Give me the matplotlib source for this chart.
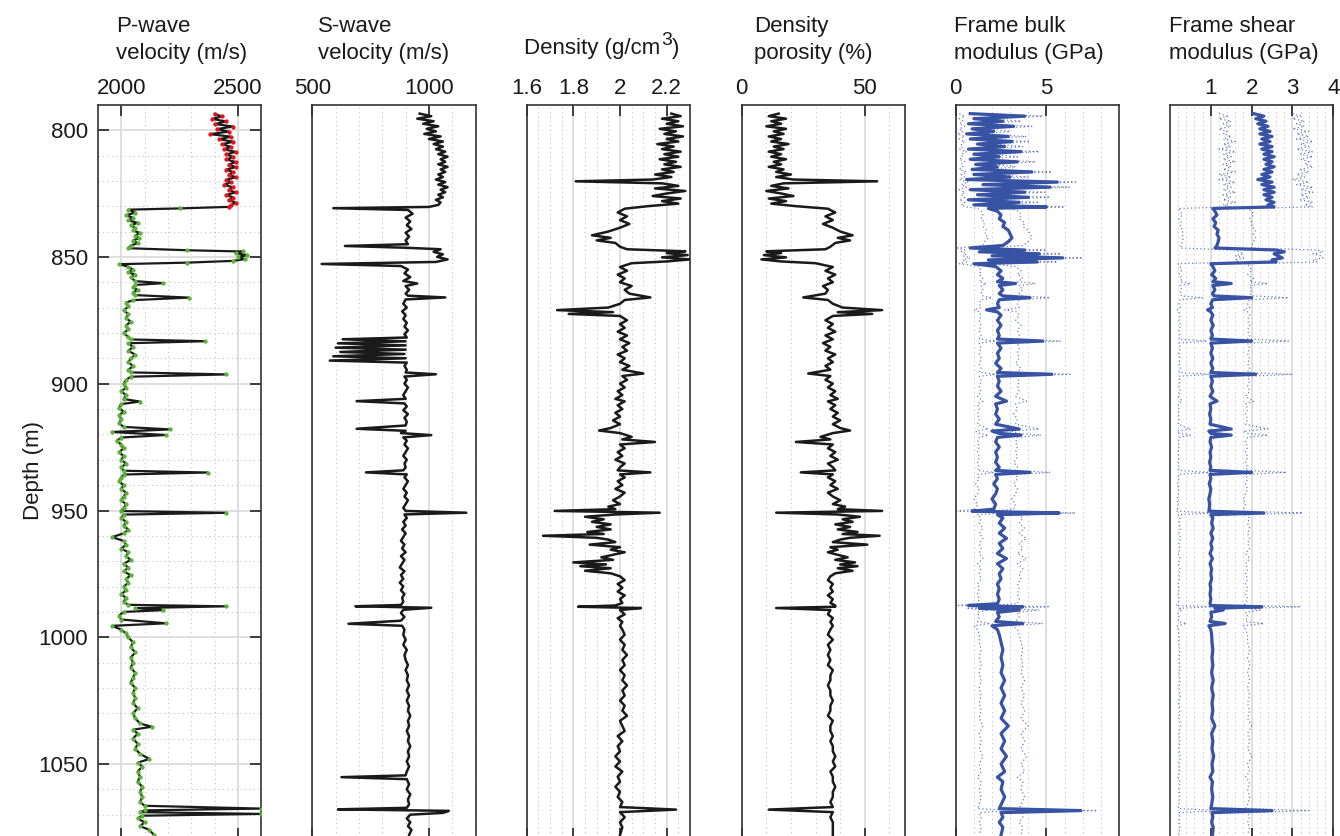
import matplotlib
matplotlib.use("Agg")
import matplotlib.pyplot as plt
import numpy as np

plt.rcParams['font.family'] = ['Liberation Sans', 'DejaVu Sans']

# ---- data: (depth m, value) ----
pwave = [
    (793.5, 2400), (794.5, 2430), (795.5, 2390), (796.5, 2450), (797.5, 2400), (798.5, 2480),
    (799.5, 2410), (800.5, 2460), (801.5, 2380), (802.5, 2470), (803.5, 2420), (804.5, 2480),
    (805.5, 2430), (806.5, 2470), (807.5, 2440), (808.5, 2490), (809.5, 2450), (810.5, 2480),
    (811.5, 2450), (812.5, 2490), (813.5, 2460), (814.5, 2490), (815.5, 2450), (816.5, 2480),
    (817.5, 2460), (818.5, 2490), (819.5, 2450), (820.5, 2470), (821.5, 2440), (822.5, 2480),
    (823.5, 2460), (824.5, 2490), (825.5, 2450), (826.5, 2480), (827.5, 2460), (828.5, 2490),
    (829.5, 2470), (830.2, 2460), (830.8, 2250), (831.3, 2030), (832.5, 2060), (833.5, 2020),
    (834.5, 2050), (835.5, 2030), (836.5, 2070), (837.5, 2040), (838.5, 2060), (839.5, 2050),
    (840.5, 2080), (841.5, 2060), (842.5, 2075), (843.5, 2050), (844.5, 2070), (845.5, 2040),
    (846.5, 2030), (847.3, 2280), (847.8, 2520), (848.5, 2490), (849.2, 2540), (850.0, 2500),
    (850.8, 2530), (851.5, 2480), (852.2, 2280), (852.8, 1990), (853.8, 2030), (855, 2050),
    (856, 2030), (857, 2060), (858, 2040), (859.5, 2060), (860.3, 2180), (861, 2060),
    (862, 2050), (863, 2070), (864, 2050), (865, 2060), (866, 2290), (867, 2050),
    (868, 2020), (869.5, 2030), (871, 2010), (872.5, 2030), (874, 2020), (875.5, 2040),
    (877, 2020), (878.5, 2030), (880, 2010), (881.5, 2030), (882.5, 2040), (883.2, 2360),
    (884, 2030), (885.5, 2050), (887, 2030), (888.5, 2060), (890, 2040), (891.5, 2030),
    (893, 2050), (894.5, 2030), (895.5, 2040), (896.3, 2450), (897.2, 2040), (898.5, 2020),
    (900, 2010), (901.5, 2020), (903, 2000), (904.5, 2020), (906, 2010), (907, 2080),
    (908, 2000), (909.5, 1990), (911, 2010), (912.5, 1990), (914, 2000), (915.5, 1990),
    (917, 2010), (918, 2210), (919, 1960), (920.2, 2190), (921.2, 2000), (922.5, 1980),
    (924, 2000), (925.5, 2010), (927, 1990), (928.5, 2010), (930, 2000), (931.5, 2020),
    (933, 2000), (934.3, 2010), (935, 2370), (935.8, 2010), (937, 2000), (938.5, 1990),
    (940, 2010), (941.5, 2000), (943, 2020), (944.5, 2010), (946, 2000), (947.5, 2020),
    (949, 2010), (950.2, 2000), (950.9, 2450), (951.6, 2010), (953, 2000), (954.5, 2020),
    (956, 2010), (957.5, 2030), (959, 2010), (960.5, 1960), (962, 2010), (963.5, 2020),
    (965, 2000), (966.5, 2030), (968, 2020), (969.5, 2040), (971, 2010), (972.5, 2030),
    (974, 2010), (975.5, 2040), (977, 2020), (978.5, 2030), (980, 2010), (981.5, 2020),
    (983, 2000), (984.5, 2020), (986, 2010), (987.2, 2030), (987.8, 2450), (988.5, 2060),
    (989.3, 2180), (990, 2010), (991.5, 1990), (993, 2000), (994.5, 2190), (995.5, 1960),
    (997, 2000), (998.5, 2020), (1000, 2030), (1002, 2050), (1004, 2040), (1006, 2060),
    (1008, 2040), (1010, 2050), (1012, 2040), (1014, 2060), (1016, 2050), (1018, 2040),
    (1020, 2060), (1022, 2050), (1024, 2060), (1026, 2050), (1028, 2070), (1030, 2050),
    (1032, 2060), (1034, 2080), (1035.3, 2130), (1036.5, 2050), (1038, 2070), (1040, 2050),
    (1042, 2070), (1044, 2060), (1046, 2080), (1048, 2120), (1049.5, 2070), (1051, 2090),
    (1053, 2070), (1055, 2080), (1057, 2070), (1059, 2090), (1061, 2080), (1063, 2090),
    (1065, 2080), (1066.5, 2100), (1067.6, 2600), (1068.3, 2100), (1069, 2080), (1069.7, 2600),
    (1070.4, 2090), (1071.5, 2070), (1073, 2100), (1074.5, 2080), (1076, 2120), (1078, 2140),
]

swave = [
    (793.5, 960), (794.5, 1010), (795.5, 950), (796.5, 1020), (797.5, 975), (798.5, 1040),
    (799.5, 990), (800.5, 1030), (801.5, 980), (802.5, 1050), (803.5, 1000), (804.5, 1060),
    (805.5, 1020), (806.5, 1060), (807.5, 1030), (808.5, 1070), (809.5, 1040), (810.5, 1080),
    (811.5, 1050), (812.5, 1070), (813.5, 1040), (814.5, 1080), (815.5, 1050), (816.5, 1070),
    (817.5, 1040), (818.5, 1060), (819.5, 1030), (820.5, 1070), (821.5, 1040), (822.5, 1080),
    (823.5, 1050), (824.5, 1070), (825.5, 1040), (826.5, 1060), (827.5, 1030), (828.5, 1050),
    (829.5, 1040), (830.3, 1000), (830.8, 590), (831.5, 910), (833, 930), (834.5, 900),
    (836, 920), (837.5, 905), (839, 925), (840.5, 900), (842, 915), (843.5, 900),
    (845, 910), (845.7, 640), (846.4, 900), (847, 1050), (848, 1020), (849, 1060),
    (850, 1035), (851, 1080), (852, 1030), (852.8, 540), (853.6, 880), (855, 910),
    (856.5, 895), (858, 920), (859.5, 890), (860.5, 950), (861.5, 900), (863, 915),
    (864.5, 900), (865.3, 910), (866, 1070), (866.8, 900), (868.5, 890), (870, 905),
    (871.5, 885), (873, 900), (874.5, 890), (876, 905), (877.5, 895), (879, 910),
    (880.5, 895), (881.8, 905), (882.5, 630), (883.3, 900), (884.1, 610), (884.9, 900),
    (885.8, 600), (886.6, 900), (887.5, 620), (888.3, 895), (889.2, 590), (890, 900),
    (890.9, 575), (891.7, 905), (893, 895), (894.5, 905), (895.6, 900), (896.3, 1030),
    (897.2, 895), (898.5, 905), (900, 895), (901.5, 910), (903, 900), (904.5, 890),
    (906, 900), (906.9, 690), (907.8, 895), (909, 905), (910.5, 890), (912, 910),
    (913.5, 895), (915, 905), (916.5, 900), (917.8, 690), (918.6, 900), (919.5, 880),
    (920.3, 1010), (921.2, 890), (922.5, 905), (924, 895), (925.5, 910), (927, 900),
    (928.5, 890), (930, 905), (931.5, 895), (933, 900), (934.2, 890), (935, 730),
    (935.8, 905), (937, 895), (938.5, 910), (940, 900), (941.5, 890), (943, 905),
    (944.5, 895), (946, 910), (947.5, 900), (949, 890), (950.2, 900), (950.9, 1160),
    (951.6, 895), (953, 905), (954.5, 890), (956, 900), (957.5, 885), (959, 900),
    (960.5, 890), (962, 880), (963.5, 895), (965, 885), (966.5, 900), (968, 880),
    (969.5, 895), (971, 885), (972.5, 875), (974, 895), (975.5, 880), (977, 890),
    (978.5, 875), (980, 890), (981.5, 880), (983, 895), (984.5, 885), (986, 890),
    (987.3, 880), (987.8, 685), (988.4, 1010), (989.2, 890), (990.5, 880), (992, 895),
    (993.5, 880), (994.7, 655), (995.5, 885), (997, 895), (999, 890), (1001, 900),
    (1003, 890), (1005, 905), (1007, 895), (1009, 900), (1011, 910), (1013, 900),
    (1015, 910), (1017, 905), (1019, 915), (1021, 905), (1023, 915), (1025, 905),
    (1027, 915), (1029, 910), (1031, 920), (1033, 910), (1035, 915), (1037, 905),
    (1039, 915), (1041, 910), (1043, 920), (1045, 910), (1047, 915), (1049, 905),
    (1051, 915), (1053, 905), (1054.5, 900), (1055.2, 625), (1056, 905), (1058, 915),
    (1060, 905), (1062, 920), (1064, 910), (1066, 915), (1067.3, 905), (1067.9, 610),
    (1068.5, 1085), (1069.3, 1060), (1070, 920), (1071.5, 905), (1073, 920), (1074.5, 910),
    (1076, 925), (1078, 915),
]

# (depth, density g/cm3, density porosity %)
dens_por = [
    (793.5, 2.22, 15), (794.5, 2.26, 11), (795.5, 2.18, 18), (796.5, 2.25, 12), (797.5, 2.20, 16),
    (798.5, 2.27, 10), (799.5, 2.17, 18), (800.5, 2.24, 13), (801.5, 2.19, 17), (802.5, 2.27, 11),
    (803.5, 2.20, 16), (804.5, 2.25, 12), (805.5, 2.16, 19), (806.5, 2.23, 13), (807.5, 2.18, 17),
    (808.5, 2.26, 11), (809.5, 2.19, 16), (810.5, 2.25, 12), (811.5, 2.17, 18), (812.5, 2.24, 13),
    (813.5, 2.19, 16), (814.5, 2.26, 11), (815.5, 2.18, 17), (816.5, 2.23, 14), (817.5, 2.15, 20),
    (818.5, 2.22, 14), (819.5, 2.14, 21), (820.2, 1.81, 55), (821, 2.18, 17), (822, 2.25, 12),
    (823, 2.15, 19), (824, 2.28, 10), (825, 2.20, 16), (826, 2.14, 21), (827, 2.26, 11),
    (828, 2.18, 18), (829, 2.25, 12), (830, 2.12, 22), (831, 2.02, 35), (832.5, 1.99, 38),
    (834, 2.03, 34), (835.5, 2.00, 37), (837, 2.04, 33), (838.5, 2.00, 37), (840, 1.95, 40),
    (841.5, 1.88, 45), (842.5, 1.96, 39), (843.5, 1.90, 44), (844.5, 1.98, 38), (846, 2.00, 36),
    (847, 2.03, 34), (847.8, 2.28, 10), (848.5, 2.20, 16), (849.3, 2.29, 9), (850.2, 2.18, 18),
    (851, 2.30, 8), (851.8, 2.20, 16), (852.5, 2.05, 30), (854, 2.00, 37), (855.5, 2.03, 34),
    (857, 1.99, 38), (858.5, 2.02, 35), (860, 2.00, 37), (861.5, 2.05, 33), (863, 2.02, 35),
    (864.5, 2.04, 34), (866, 2.13, 25), (867, 2.02, 35), (868.5, 2.00, 37), (870, 1.95, 41),
    (871, 1.73, 57), (871.8, 1.97, 39), (872.5, 1.78, 53), (873.3, 2.00, 37), (875, 2.03, 34),
    (876.5, 2.00, 37), (878, 2.02, 35), (879.5, 1.99, 38), (881, 2.03, 34), (882.5, 2.00, 37),
    (884, 2.04, 33), (885.5, 2.01, 36), (887, 2.03, 34), (888.5, 1.99, 38), (890, 2.02, 35),
    (891.5, 2.00, 37), (893, 2.04, 34), (894.5, 2.01, 36), (896, 2.10, 27), (897, 2.01, 36),
    (898.5, 2.03, 34), (900, 2.00, 37), (901.5, 2.02, 35), (903, 1.99, 38), (904.5, 2.01, 36),
    (906, 1.98, 39), (907, 2.02, 35), (908.5, 1.99, 38), (910, 2.01, 36), (911.5, 1.98, 39),
    (913, 2.00, 37), (914.5, 1.97, 40), (916, 2.00, 37), (917.5, 1.96, 40), (918.5, 1.91, 44),
    (919.5, 2.00, 37), (921, 2.05, 32), (922, 2.01, 36), (923, 2.15, 22), (924, 2.00, 37),
    (925.5, 2.02, 35), (927, 1.99, 38), (928.5, 2.01, 36), (930, 1.98, 39), (931.5, 2.02, 35),
    (933, 2.00, 37), (934.2, 1.99, 38), (935, 2.13, 24), (935.8, 2.00, 37), (937, 2.02, 35),
    (938.5, 1.99, 38), (940, 2.01, 36), (941.5, 1.98, 39), (943, 2.02, 35), (944.5, 2.00, 37),
    (946, 1.97, 40), (947.5, 2.00, 37), (948.5, 1.95, 42), (949.5, 1.98, 39), (950.2, 1.72, 57),
    (950.9, 2.17, 14), (951.6, 1.98, 39), (952.5, 1.85, 48), (953.5, 1.93, 41), (954.5, 1.88, 45),
    (955.5, 1.96, 38), (956.5, 1.90, 44), (957.5, 1.96, 39), (958.5, 1.86, 47), (959.3, 1.93, 41),
    (960, 1.67, 56), (960.8, 1.90, 44), (961.5, 1.95, 40), (962.5, 1.98, 37), (963.5, 1.87, 51),
    (964.5, 2.00, 36), (965.5, 1.96, 39), (966.5, 2.02, 35), (967.5, 1.97, 39), (968.5, 1.92, 43),
    (969.5, 1.97, 38), (970.5, 1.80, 46), (971.3, 1.94, 40), (972, 1.83, 47), (972.8, 1.96, 39),
    (973.8, 1.85, 45), (974.8, 1.96, 38), (976, 2.00, 36), (977.5, 2.02, 35), (979, 1.99, 37),
    (980.5, 2.01, 36), (982, 1.99, 37), (983.5, 2.02, 35), (985, 2.00, 37), (986.5, 2.01, 36),
    (987.5, 1.98, 38), (988, 1.82, 38), (988.5, 2.09, 14), (989.3, 2.00, 36), (991, 2.02, 35),
    (992.5, 1.99, 37), (994, 2.01, 36), (995.5, 2.00, 37), (997, 2.01, 36), (999, 2.02, 35),
    (1001, 2.00, 37), (1003, 2.02, 35), (1005, 2.01, 36), (1007, 2.03, 35), (1009, 2.01, 36),
    (1011, 2.02, 35), (1013, 2.00, 37), (1015, 2.02, 36), (1017, 2.01, 36), (1019, 2.03, 35),
    (1021, 2.01, 36), (1023, 2.02, 36), (1025, 2.00, 37), (1027, 2.02, 36), (1029, 2.01, 36),
    (1031, 2.03, 35), (1033, 2.00, 37), (1035, 2.01, 36), (1037, 2.02, 36), (1039, 1.99, 37),
    (1041, 2.01, 36), (1043, 1.99, 37), (1045, 2.00, 37), (1047, 1.98, 38), (1049, 2.00, 37),
    (1051, 1.98, 38), (1053, 2.01, 36), (1055, 1.99, 37), (1057, 2.00, 37), (1059, 1.98, 38),
    (1061, 2.00, 37), (1063, 1.99, 37), (1065, 2.01, 36), (1067, 2.00, 37), (1068, 2.24, 11),
    (1069, 2.00, 37), (1071, 2.02, 36), (1073, 2.00, 37), (1075, 2.01, 37), (1078, 2.00, 37),
]

# (depth, K low, K, K high, G low, G, G high)  frame moduli in GPa
moduli = [
    (793.5, 0.2, 0.8, 1.6, 1.2, 2.05, 3.0), (794.5, 0.5, 3.8, 4.8, 1.4, 2.30, 3.2),
    (795.5, 0.2, 1.0, 1.9, 1.2, 2.10, 3.0), (796.5, 0.4, 2.6, 3.6, 1.5, 2.35, 3.3),
    (797.5, 0.2, 0.7, 1.5, 1.3, 2.15, 3.1), (798.5, 0.5, 3.2, 4.2, 1.5, 2.40, 3.3),
    (799.5, 0.2, 0.9, 1.8, 1.2, 2.20, 3.0), (800.5, 0.4, 2.1, 3.0, 1.4, 2.45, 3.4),
    (801.5, 0.1, 0.6, 1.3, 1.3, 2.20, 3.1), (802.5, 0.5, 2.9, 3.9, 1.5, 2.50, 3.4),
    (803.5, 0.2, 0.8, 1.6, 1.3, 2.25, 3.1), (804.5, 0.5, 3.1, 4.1, 1.6, 2.45, 3.5),
    (805.5, 0.3, 1.2, 2.1, 1.3, 2.20, 3.2), (806.5, 0.4, 2.7, 3.7, 1.5, 2.50, 3.4),
    (807.5, 0.2, 0.7, 1.5, 1.2, 2.25, 3.1), (808.5, 0.6, 3.6, 4.6, 1.6, 2.50, 3.5),
    (809.5, 0.3, 1.0, 1.9, 1.3, 2.30, 3.2), (810.5, 0.4, 2.4, 3.4, 1.5, 2.55, 3.5),
    (811.5, 0.2, 0.8, 1.6, 1.3, 2.30, 3.2), (812.5, 0.5, 3.4, 4.4, 1.6, 2.50, 3.4),
    (813.5, 0.3, 1.1, 2.0, 1.3, 2.35, 3.3), (814.5, 0.4, 2.3, 3.3, 1.5, 2.55, 3.5),
    (815.5, 0.2, 0.9, 1.8, 1.3, 2.30, 3.2), (816.5, 0.6, 4.2, 5.3, 1.6, 2.50, 3.4),
    (817.5, 0.3, 1.0, 1.9, 1.2, 2.25, 3.1), (818.5, 0.5, 3.0, 4.0, 1.5, 2.45, 3.3),
    (819.5, 0.2, 0.6, 1.4, 1.2, 2.15, 3.0), (820.5, 0.7, 5.6, 6.6, 1.6, 2.50, 3.4),
    (821.5, 0.3, 1.5, 2.6, 1.3, 2.25, 3.1), (822.5, 0.6, 5.2, 6.3, 1.5, 2.55, 3.5),
    (823.5, 0.2, 0.8, 1.6, 1.3, 2.30, 3.2), (824.5, 0.5, 3.8, 4.9, 1.6, 2.55, 3.5),
    (825.5, 0.3, 1.2, 2.2, 1.3, 2.30, 3.2), (826.5, 0.5, 4.0, 5.2, 1.5, 2.50, 3.4),
    (827.5, 0.2, 0.7, 1.5, 1.3, 2.35, 3.2), (828.5, 0.5, 3.5, 4.6, 1.6, 2.55, 3.5),
    (829.5, 0.3, 1.0, 1.9, 1.3, 2.40, 3.3), (830.3, 0.6, 5.0, 6.0, 1.5, 2.55, 3.5),
    (830.9, 1.2, 1.8, 3.0, 0.20, 1.05, 1.9), (832, 1.4, 2.3, 3.5, 0.25, 1.10, 2.0),
    (833.5, 1.5, 2.5, 3.6, 0.30, 1.15, 2.05), (835, 1.4, 2.4, 3.5, 0.22, 1.05, 1.95),
    (836.5, 1.6, 2.7, 3.8, 0.28, 1.12, 2.0), (838, 1.5, 2.6, 3.7, 0.25, 1.08, 2.0),
    (839.5, 1.7, 2.9, 4.0, 0.32, 1.18, 2.1), (841, 1.6, 3.0, 4.1, 0.30, 1.15, 2.05),
    (842.5, 1.8, 3.1, 4.2, 0.33, 1.20, 2.1), (844, 1.6, 2.9, 4.0, 0.30, 1.18, 2.05),
    (845.5, 1.5, 2.6, 3.7, 0.28, 1.15, 2.0), (846.5, 0.1, 0.8, 1.7, 0.25, 1.10, 2.0),
    (847.3, 0.5, 3.8, 4.9, 1.6, 2.60, 3.6), (848, 0.3, 1.3, 2.4, 1.7, 2.80, 3.75),
    (848.8, 0.6, 4.6, 5.8, 1.8, 2.55, 3.5), (849.6, 0.4, 2.0, 3.1, 1.6, 2.65, 3.7),
    (850.4, 0.8, 5.9, 7.0, 1.8, 2.75, 3.75), (851.2, 0.4, 1.8, 2.9, 1.6, 2.50, 3.5),
    (852, 0.6, 4.5, 5.6, 1.7, 2.60, 3.6), (852.7, 0.2, 1.0, 2.0, 0.20, 1.00, 1.85),
    (853.8, 1.3, 2.2, 3.3, 0.25, 1.05, 1.95), (855.5, 1.4, 2.5, 3.6, 0.28, 1.10, 2.0),
    (857, 1.3, 2.3, 3.4, 0.22, 1.02, 1.9), (858.5, 1.5, 2.6, 3.7, 0.30, 1.12, 2.05),
    (859.8, 1.3, 2.3, 3.4, 0.25, 1.05, 1.95), (860.5, 1.7, 3.3, 4.4, 0.5, 1.50, 2.4),
    (861.3, 1.4, 2.4, 3.5, 0.25, 1.05, 1.95), (863, 1.5, 2.6, 3.7, 0.28, 1.10, 2.0),
    (864.5, 1.4, 2.4, 3.5, 0.24, 1.04, 1.95), (865.4, 1.5, 2.6, 3.7, 0.28, 1.08, 2.0),
    (866.1, 2.0, 4.1, 5.2, 0.8, 2.00, 2.9), (866.9, 1.4, 2.4, 3.5, 0.25, 1.05, 1.95),
    (868.5, 1.3, 2.3, 3.4, 0.22, 1.00, 1.9), (870, 1.4, 2.4, 3.5, 0.25, 1.04, 1.95),
    (870.9, 1.0, 1.7, 2.7, 0.18, 0.92, 1.8), (871.7, 1.3, 2.3, 3.4, 0.22, 1.00, 1.9),
    (873, 1.4, 2.5, 3.5, 0.25, 1.05, 1.95), (875, 1.3, 2.3, 3.3, 0.22, 1.00, 1.9),
    (877, 1.4, 2.5, 3.6, 0.26, 1.06, 1.95), (879, 1.3, 2.3, 3.4, 0.22, 1.00, 1.9),
    (881, 1.4, 2.4, 3.5, 0.25, 1.04, 1.95), (882.4, 1.3, 2.3, 3.4, 0.22, 1.00, 1.9),
    (883.2, 2.2, 4.8, 5.8, 0.9, 2.00, 2.9), (884, 1.3, 2.3, 3.4, 0.22, 1.00, 1.9),
    (886, 1.4, 2.5, 3.5, 0.25, 1.04, 1.95), (888, 1.3, 2.3, 3.4, 0.22, 1.00, 1.9),
    (890, 1.4, 2.4, 3.5, 0.25, 1.05, 1.95), (892, 1.3, 2.2, 3.3, 0.22, 1.00, 1.9),
    (894, 1.4, 2.5, 3.6, 0.25, 1.05, 1.95), (895.6, 1.3, 2.3, 3.4, 0.22, 1.00, 1.9),
    (896.3, 2.3, 5.3, 6.3, 1.0, 2.10, 3.0), (897.1, 1.3, 2.3, 3.4, 0.22, 1.00, 1.9),
    (899, 1.4, 2.4, 3.5, 0.25, 1.04, 1.95), (901, 1.3, 2.3, 3.4, 0.22, 1.00, 1.9),
    (903, 1.4, 2.5, 3.5, 0.25, 1.05, 1.95), (905, 1.2, 2.2, 3.3, 0.20, 0.98, 1.85),
    (906.9, 1.5, 2.8, 3.9, 0.30, 1.15, 2.05), (908, 1.2, 2.2, 3.3, 0.20, 0.98, 1.85),
    (910, 1.3, 2.3, 3.4, 0.22, 1.00, 1.9), (912, 1.2, 2.2, 3.2, 0.20, 0.97, 1.85),
    (914, 1.3, 2.4, 3.4, 0.22, 1.00, 1.9), (916, 1.2, 2.2, 3.3, 0.20, 0.98, 1.85),
    (917.9, 1.8, 3.5, 4.6, 0.5, 1.50, 2.4), (918.7, 1.1, 2.0, 3.1, 0.18, 0.95, 1.8),
    (919.6, 1.3, 2.4, 3.4, 0.22, 1.00, 1.9), (920.3, 1.8, 3.6, 4.7, 0.5, 1.50, 2.4),
    (921.2, 1.3, 2.3, 3.4, 0.22, 1.00, 1.9), (923, 1.2, 2.2, 3.3, 0.20, 0.98, 1.85),
    (925, 1.3, 2.4, 3.4, 0.22, 1.02, 1.9), (927, 1.2, 2.2, 3.3, 0.20, 0.98, 1.85),
    (929, 1.3, 2.3, 3.4, 0.22, 1.00, 1.9), (931, 1.2, 2.2, 3.2, 0.20, 0.97, 1.85),
    (933, 1.3, 2.4, 3.4, 0.22, 1.00, 1.9), (934.2, 1.2, 2.2, 3.3, 0.20, 0.98, 1.85),
    (935, 2.1, 4.1, 5.2, 1.0, 2.00, 2.85), (935.8, 1.2, 2.2, 3.3, 0.20, 0.98, 1.85),
    (937.5, 1.3, 2.3, 3.4, 0.22, 1.00, 1.9), (939.5, 1.1, 2.1, 3.2, 0.18, 0.96, 1.85),
    (941.5, 1.3, 2.3, 3.4, 0.22, 1.00, 1.9), (943.5, 1.2, 2.2, 3.3, 0.20, 0.98, 1.85),
    (945.5, 1.0, 2.0, 3.1, 0.18, 0.95, 1.8), (947.5, 1.2, 2.2, 3.3, 0.20, 0.97, 1.85),
    (949.5, 1.1, 2.1, 3.2, 0.18, 0.96, 1.8), (950.3, 0.05, 0.9, 2.0, 0.15, 0.95, 1.8),
    (951, 2.6, 5.7, 6.6, 1.1, 2.30, 3.25), (951.7, 1.2, 2.3, 3.4, 0.20, 1.00, 1.85),
    (953, 1.4, 2.6, 3.7, 0.24, 1.05, 1.95), (955, 1.3, 2.4, 3.5, 0.22, 1.02, 1.9),
    (957, 1.5, 2.7, 3.8, 0.26, 1.06, 1.95), (959, 1.3, 2.4, 3.5, 0.22, 1.00, 1.9),
    (961, 1.5, 2.8, 3.9, 0.26, 1.05, 1.95), (963, 1.3, 2.4, 3.5, 0.22, 1.00, 1.9),
    (965, 1.4, 2.6, 3.7, 0.24, 1.03, 1.95), (967, 1.3, 2.3, 3.4, 0.20, 0.98, 1.85),
    (969, 1.5, 2.8, 3.9, 0.25, 1.04, 1.95), (971, 1.2, 2.3, 3.4, 0.20, 0.98, 1.85),
    (973, 1.4, 2.6, 3.7, 0.24, 1.02, 1.9), (975, 1.3, 2.4, 3.5, 0.22, 1.00, 1.85),
    (977, 1.4, 2.5, 3.6, 0.23, 1.02, 1.9), (979, 1.2, 2.3, 3.4, 0.20, 0.98, 1.85),
    (981, 1.3, 2.4, 3.5, 0.22, 1.00, 1.9), (983, 1.2, 2.3, 3.4, 0.20, 0.98, 1.85),
    (985, 1.3, 2.4, 3.5, 0.22, 1.00, 1.9), (986.8, 1.2, 2.3, 3.4, 0.20, 0.98, 1.85),
    (987.5, 0.05, 0.7, 1.8, 0.15, 1.00, 1.8), (988, 2.4, 3.7, 5.1, 1.1, 2.25, 3.2),
    (988.6, 0.6, 1.3, 2.4, 0.20, 1.10, 1.9), (989.3, 1.8, 3.5, 4.6, 0.30, 1.30, 2.2),
    (990.2, 1.2, 2.3, 3.4, 0.20, 1.00, 1.85), (992, 1.3, 2.4, 3.5, 0.22, 1.02, 1.9),
    (993.8, 1.2, 2.2, 3.3, 0.20, 0.98, 1.85), (994.6, 1.9, 3.7, 4.8, 0.40, 1.35, 2.3),
    (995.5, 1.0, 2.0, 3.1, 0.18, 0.95, 1.8), (997, 1.2, 2.3, 3.4, 0.20, 1.00, 1.85),
    (999, 1.3, 2.4, 3.5, 0.22, 1.02, 1.9), (1002, 1.3, 2.5, 3.6, 0.22, 1.03, 1.9),
    (1005, 1.4, 2.6, 3.7, 0.24, 1.05, 1.95), (1008, 1.3, 2.5, 3.6, 0.22, 1.03, 1.9),
    (1011, 1.4, 2.6, 3.7, 0.24, 1.05, 1.95), (1014, 1.3, 2.5, 3.6, 0.22, 1.02, 1.9),
    (1017, 1.4, 2.7, 3.8, 0.25, 1.06, 1.95), (1020, 1.3, 2.5, 3.6, 0.22, 1.02, 1.9),
    (1023, 1.4, 2.7, 3.8, 0.25, 1.06, 1.95), (1026, 1.3, 2.5, 3.6, 0.22, 1.03, 1.9),
    (1029, 1.4, 2.7, 3.8, 0.24, 1.05, 1.95), (1032, 1.3, 2.5, 3.6, 0.22, 1.02, 1.9),
    (1035, 1.5, 2.9, 4.0, 0.26, 1.10, 2.0), (1038, 1.3, 2.5, 3.6, 0.22, 1.02, 1.9),
    (1041, 1.4, 2.7, 3.8, 0.24, 1.05, 1.95), (1044, 1.3, 2.5, 3.6, 0.22, 1.03, 1.9),
    (1047, 1.5, 2.8, 3.9, 0.25, 1.07, 2.0), (1050, 1.3, 2.5, 3.6, 0.22, 1.03, 1.9),
    (1053, 1.4, 2.7, 3.8, 0.24, 1.05, 1.95), (1055.2, 1.2, 2.3, 3.4, 0.20, 0.98, 1.85),
    (1057, 1.4, 2.6, 3.7, 0.24, 1.04, 1.95), (1060, 1.3, 2.5, 3.6, 0.22, 1.02, 1.9),
    (1063, 1.4, 2.7, 3.8, 0.24, 1.05, 1.95), (1066, 1.3, 2.5, 3.6, 0.22, 1.02, 1.9),
    (1067.6, 1.2, 2.4, 3.5, 0.20, 1.00, 1.85), (1068.4, 3.0, 6.9, 7.8, 1.3, 2.50, 3.4),
    (1069.2, 1.3, 2.5, 3.6, 0.22, 1.03, 1.9), (1071, 1.4, 2.6, 3.7, 0.24, 1.05, 1.95),
    (1073, 1.3, 2.4, 3.5, 0.22, 1.02, 1.9), (1075, 1.4, 2.6, 3.7, 0.24, 1.06, 1.95),
    (1078, 1.3, 2.5, 3.6, 0.22, 1.04, 1.9),
]

red_zone_bottom = 830.5   # P-wave points above this drawn red

titles = [["P-wave", "velocity (m/s)"], ["S-wave", "velocity (m/s)"],
          ["Density (g/cm", "3", ")"], ["Density", "porosity (%)"],
          ["Frame bulk", "modulus (GPa)"], ["Frame shear", "modulus (GPa)"]]
xlims = [(1900, 2600), (500, 1200), (1.6, 2.3), (0, 66.3), (0, 9), (0, 4)]
xmajor = [[2000, 2500], [500, 1000], [1.6, 1.8, 2.0, 2.2], [0, 50], [0, 5], [1, 2, 3, 4]]
xmajor_lbl = [["2000", "2500"], ["500", "1000"], ["1.6", "1.8", "2", "2.2"], ["0", "50"],
              ["0", "5"], ["1", "2", "3", "4"]]
xminor = [np.arange(1900, 2601, 100), np.arange(500, 1201, 100), np.arange(1.6, 2.31, 0.05),
          np.arange(0, 61, 10), np.arange(0, 9.1, 1), np.arange(0, 4.01, 0.2)]
depth_ticks = [800, 850, 900, 950, 1000, 1050]

BLUE = '#3953a4'
TXT = '#1a1a1a'
W, H = 1340, 836
fig = plt.figure(figsize=(W / 100, H / 100), dpi=100)

lefts = [98, 312.3, 526.7, 741.7, 955.7, 1170]
pw = 163.3
top_px, bot_px = 105, 838.5
title_x = [116, 318, 524, 754, 954, 1169]

axes = []
for i in range(6):
    ax = fig.add_axes([lefts[i] / W, 1 - bot_px / H, pw / W, (bot_px - top_px) / H])
    ax.set_xlim(*xlims[i])
    ax.set_ylim(1079.4, 790.1)
    ax.set_xticks(xmajor[i])
    ax.set_xticklabels(xmajor_lbl[i])
    ax.set_xticks(xminor[i], minor=True)
    ax.tick_params(axis='x', which='major', direction='in', top=True, bottom=True,
                   labeltop=True, labelbottom=False, length=8, width=1.2,
                   color='#222222', pad=4, labelsize=16, labelcolor=TXT)
    ax.tick_params(axis='x', which='minor', length=0)
    ax.grid(True, which='major', axis='x', color='#dcdcdc', lw=1.3, ls='-')
    ax.grid(True, which='minor', axis='x', color='#c4c4c4', lw=0.8, ls=(0, (1, 3)))
    if i == 0:
        ax.set_yticks(depth_ticks)
        ax.set_yticks(np.arange(790, 1080, 10), minor=True)
        ax.tick_params(axis='y', which='major', direction='in', left=True, right=True,
                       length=8, width=1.2, color='#222222', pad=7, labelsize=16,
                       labelcolor=TXT)
        ax.tick_params(axis='y', which='minor', length=0)
        ax.grid(True, which='major', axis='y', color='#dcdcdc', lw=1.3, ls='-')
        ax.grid(True, which='minor', axis='y', color='#c4c4c4', lw=0.8, ls=(0, (1, 3)))
    else:
        ax.set_yticks([])
    ax.set_axisbelow(True)
    for s in ax.spines.values():
        s.set_color('#333333')
        s.set_linewidth(1.2)
    ax.patch.set_alpha(0)
    axes.append(ax)

    t = titles[i]
    if i == 2:
        # single-line title with a large raised superscript
        t0 = fig.text(title_x[i] / W, 1 - 54 / H, t[0], fontsize=16, color=TXT, va='baseline')
        fig.canvas.draw()
        bb = t0.get_window_extent()
        t1 = fig.text((bb.x1 + 0.5) / W, 1 - 45 / H, t[1], fontsize=14, color=TXT, va='baseline')
        fig.canvas.draw()
        bb1 = t1.get_window_extent()
        fig.text((bb1.x1 + 0.5) / W, 1 - 54 / H, t[2], fontsize=16, color=TXT, va='baseline')
    else:
        fig.text(title_x[i] / W, 1 - 32 / H, t[0], fontsize=16, color=TXT, va='baseline')
        fig.text(title_x[i] / W, 1 - 59 / H, t[1], fontsize=16, color=TXT, va='baseline')

fig.text(33 / W, 1 - 470 / H, "Depth (m)", rotation=90, fontsize=16, color=TXT,
         ha='center', va='center')

# P-wave
pd_, pv = np.array(pwave).T
axes[0].plot(pv, pd_, color=TXT, lw=1.6, zorder=3)
red = pd_ < red_zone_bottom
axes[0].plot(pv[red], pd_[red], ls='none', marker='o', ms=2.1, color='#e3141b', zorder=4)
axes[0].plot(pv[~red], pd_[~red], ls='none', marker='o', ms=2.1, color='#5db33a', zorder=4)

# S-wave
sd, sv = np.array(swave).T
axes[1].plot(sv, sd, color=TXT, lw=1.8, zorder=3)

# density / porosity
dp = np.array(dens_por)
axes[2].plot(dp[:, 1], dp[:, 0], color=TXT, lw=1.8, zorder=3)
axes[3].plot(dp[:, 2], dp[:, 0], color=TXT, lw=1.8, zorder=3)

# frame moduli with bounds
m = np.array(moduli)
for ax, cols in ((axes[4], (1, 2, 3)), (axes[5], (4, 5, 6))):
    ax.plot(m[:, cols[0]], m[:, 0], color=BLUE, lw=0.9, ls=(0, (1, 2)), alpha=0.75, zorder=2)
    ax.plot(m[:, cols[2]], m[:, 0], color=BLUE, lw=0.9, ls=(0, (1, 2)), alpha=0.75, zorder=2)
    ax.plot(m[:, cols[1]], m[:, 0], color=BLUE, lw=2.3, zorder=3)

fig.savefig("out.png", dpi=100)
